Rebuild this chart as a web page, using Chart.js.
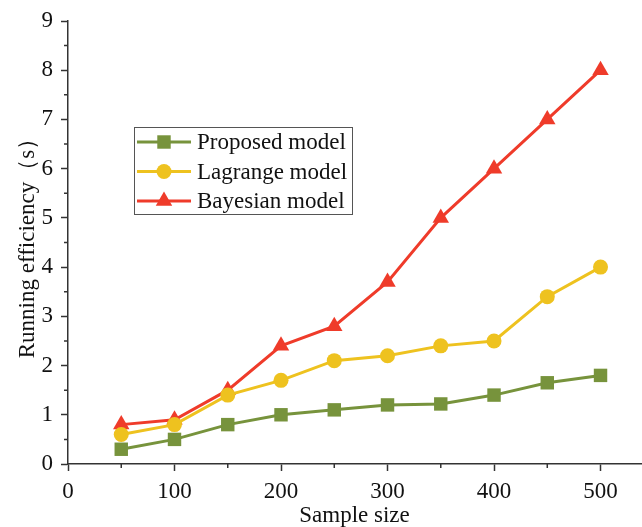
<!DOCTYPE html>
<html>
<head>
<meta charset="utf-8">
<script src="https://cdn.jsdelivr.net/npm/chart.js@4"></script>
<style>
  body { margin: 0; background: #fff; }
</style>
</head>
<body>
<canvas id="myChart" width="642" height="527"></canvas>
<script>
// data
const sampleSize = [50, 100, 150, 200, 250, 300, 350, 400, 450, 500];
const proposed = [0.3, 0.5, 0.8, 1.0, 1.1, 1.2, 1.22, 1.4, 1.65, 1.8];
const lagrange = [0.6, 0.8, 1.4, 1.7, 2.1, 2.2, 2.4, 2.5, 3.4, 4.0];
const bayesian = [0.8, 0.9, 1.5, 2.4, 2.8, 3.7, 5.0, 6.0, 7.0, 8.0];

const xTicks = [0, 100, 200, 300, 400, 500];
const yTicks = [0, 1, 2, 3, 4, 5, 6, 7, 8, 9];
const xMinor = [50, 150, 250, 350, 450];
const yMinor = [0.5, 1.5, 2.5, 3.5, 4.5, 5.5, 6.5, 7.5, 8.5];

const seriesNames = ['Proposed model', 'Lagrange model', 'Bayesian model'];

const FONT = 'Liberation Serif, Times New Roman, serif';
const AXIS = '#333333';

function toPoints(ys) {
  return sampleSize.map((x, i) => ({x: x, y: ys[i]}));
}

// little outside ticks between the labelled ones
const minorTicks = {
  id: 'minorTicks',
  afterDraw(chart) {
    const ctx = chart.ctx;
    const xs = chart.scales.x, ys = chart.scales.y;
    const area = chart.chartArea;
    ctx.save();
    ctx.strokeStyle = AXIS;
    ctx.lineWidth = 1.5;
    ctx.beginPath();
    xMinor.forEach(v => {
      const px = xs.getPixelForValue(v);
      ctx.moveTo(px, area.bottom);
      ctx.lineTo(px, area.bottom + 4);
    });
    yMinor.forEach(v => {
      const py = ys.getPixelForValue(v);
      ctx.moveTo(area.left, py);
      ctx.lineTo(area.left - 4, py);
    });
    ctx.stroke();
    ctx.restore();
  }
};

// boxed legend with line + marker samples
const boxLegend = {
  id: 'boxLegend',
  afterDraw(chart) {
    const ctx = chart.ctx;
    ctx.save();
    ctx.strokeStyle = '#555555';
    ctx.lineWidth = 1;
    ctx.strokeRect(134.5, 127.5, 218, 87);
    ctx.font = '23px ' + FONT;
    ctx.textBaseline = 'middle';
    ctx.fillStyle = '#111111';
    chart.data.datasets.forEach((ds, i) => {
      const y = 142 + i * 29.5;
      ctx.strokeStyle = ds.borderColor;
      ctx.lineWidth = ds.borderWidth;
      ctx.beginPath();
      ctx.moveTo(137, y);
      ctx.lineTo(191, y);
      ctx.stroke();
      ctx.fillStyle = ds.backgroundColor;
      Chart.helpers.drawPoint(ctx, {pointStyle: ds.pointStyle, radius: ds.pointRadius, borderWidth: 0}, 164, y);
      ctx.fillStyle = '#111111';
      ctx.fillText(ds.label, 197, y + 1);
    });
    ctx.restore();
  }
};

function noPad(s) {
  s.paddingLeft = 0;
  s.paddingRight = 0;
  s.paddingTop = 0;
  s.paddingBottom = 0;
}

new Chart('myChart', {
  type: 'line',
  data: {
    datasets: [{
      label: seriesNames[0],
      data: toPoints(proposed),
      borderColor: '#77933C',
      backgroundColor: '#77933C',
      borderWidth: 3,
      pointStyle: 'rect',
      pointRadius: 9.5,
      pointBorderWidth: 0
    }, {
      label: seriesNames[1],
      data: toPoints(lagrange),
      borderColor: '#EEC21F',
      backgroundColor: '#EEC21F',
      borderWidth: 3,
      pointStyle: 'circle',
      pointRadius: 7.5,
      pointBorderWidth: 0
    }, {
      label: seriesNames[2],
      data: toPoints(bayesian),
      borderColor: '#EF3B2A',
      backgroundColor: '#EF3B2A',
      borderWidth: 3,
      pointStyle: 'triangle',
      pointRadius: 9.5,
      pointBorderWidth: 0
    }]
  },
  options: {
    responsive: false,
    animation: false,
    layout: {autoPadding: false, padding: {top: 21, right: 1, left: 0, bottom: 0}},
    plugins: {
      legend: {display: false},
      tooltip: {enabled: false}
    },
    scales: {
      x: {
        type: 'linear',
        min: 0,
        max: 538,
        afterBuildTicks: s => { s.ticks = xTicks.map(v => ({value: v})); },
        afterFit: s => { s.height = 63; noPad(s); },
        grid: {display: true, drawOnChartArea: false, drawTicks: true, tickLength: 7, tickWidth: 1.5, tickColor: AXIS},
        border: {display: true, color: AXIS, width: 1.5},
        ticks: {color: '#111111', font: {family: FONT, size: 23}, padding: 7, maxRotation: 0},
        title: {display: true, text: 'Sample size', color: '#111111', font: {family: FONT, size: 23, lineHeight: 1}, padding: {top: 0, bottom: 0}}
      },
      y: {
        min: 0,
        max: 9,
        afterBuildTicks: s => { s.ticks = yTicks.map(v => ({value: v})); },
        afterFit: s => { s.width = 68; noPad(s); },
        grid: {display: true, drawOnChartArea: false, drawTicks: true, tickLength: 7, tickWidth: 1.5, tickColor: AXIS},
        border: {display: true, color: AXIS, width: 1.5},
        ticks: {color: '#111111', font: {family: FONT, size: 23}, padding: 8},
        title: {display: true, text: 'Running efficiency（s）', color: '#111111', font: {family: FONT, size: 23, lineHeight: 1}, padding: {top: 16, bottom: 0}}
      }
    }
  },
  plugins: [minorTicks, boxLegend]
});
</script>
</body>
</html>
